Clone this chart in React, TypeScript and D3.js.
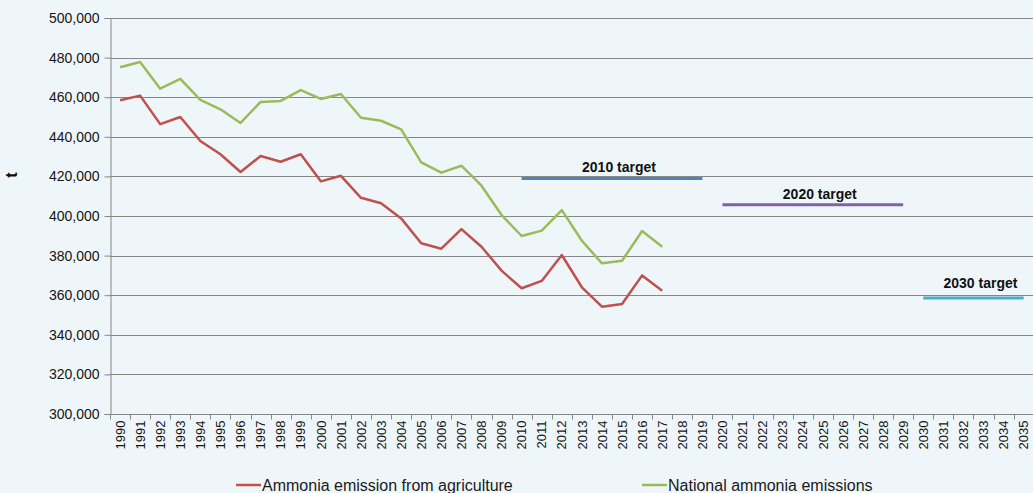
import { useEffect, useRef } from "react";
import * as d3 from "d3";

const years = d3.range(1990, 2036).map(String);

const agricultureYears = d3.range(1990, 2018).map(String);
const agriculture = [
  458500, 460800, 446400, 450000, 437900, 431200, 422200, 430300, 427400, 431200,
  417500, 420300, 409200, 406400, 398800, 386200, 383500, 393400, 384500, 372400,
  363500, 367200, 380300, 364000, 354200, 355600, 370000, 362300,
];
const national = [
  475100, 477800, 464300, 469300, 458600, 453900, 447000, 457600, 458100, 463600,
  459100, 461600, 449600, 448100, 443800, 427100, 421900, 425400, 415300, 400500,
  389900, 392600, 403000, 387500, 376100, 377400, 392400, 384500,
];

const targetLabels = ["2010 target", "2020 target", "2030 target"];
const targetValues = [419000, 405700, 358600];
const targetStart = ["2010", "2020", "2030"];
const targetEnd = ["2019", "2029", "2035"];
const targetColors = ["#4F81BD", "#8064A2", "#4BACC6"];

const yTicks = d3.range(300000, 500001, 20000);

const App = () => {
  const svgRef = useRef<SVGSVGElement>(null);

  useEffect(() => {
    const width = 1033;
    const height = 493;
    const margin = { top: 18, left: 110, bottom: 79 };
    const band = 20.08;

    const svg = d3.select(svgRef.current);
    svg.selectAll("*").remove();
    svg.attr("width", width).attr("height", height)
      .style("font-family", "'Liberation Sans', Arial, sans-serif");

    svg.append("rect").attr("width", width).attr("height", height).attr("fill", "#EFF6FA");

    const x = d3.scaleBand()
      .domain(years)
      .range([margin.left, margin.left + band * years.length]);
    const cx = (d: string) => x(d)! + x.bandwidth() / 2;

    const y = d3.scaleLinear()
      .domain([300000, 500000])
      .range([height - margin.bottom, margin.top]);

    // gridlines
    svg.append("g")
      .selectAll("line")
      .data(yTicks.slice(1))
      .join("line")
      .attr("x1", margin.left)
      .attr("x2", width)
      .attr("y1", (d) => Math.round(y(d)) + 0.5)
      .attr("y2", (d) => Math.round(y(d)) + 0.5)
      .attr("stroke", "#878787")
      .attr("stroke-width", 1.2);

    // y axis
    const yAxis = svg.append("g")
      .attr("transform", `translate(${margin.left + 0.5},0)`)
      .call(d3.axisLeft(y).tickValues(yTicks).tickSize(6).tickPadding(5)
        .tickFormat((d) => d3.format(",")(d as number)));
    yAxis.select(".domain").attr("stroke", "#868686");
    yAxis.selectAll(".tick line").attr("stroke", "#868686");
    yAxis.selectAll(".tick text")
      .attr("font-size", 14)
      .attr("fill", "#151515")
      .attr("font-family", "'Liberation Sans', Arial, sans-serif");

    // x axis
    const xAxisG = svg.append("g")
      .attr("transform", `translate(0,${Math.round(y(300000)) + 0.5})`);
    xAxisG.append("line")
      .attr("x1", margin.left)
      .attr("x2", width)
      .attr("stroke", "#868686");
    xAxisG.selectAll("line.tick")
      .data(years)
      .join("line")
      .attr("class", "tick")
      .attr("x1", (d) => Math.round(x(d)!) + 0.5)
      .attr("x2", (d) => Math.round(x(d)!) + 0.5)
      .attr("y1", 0)
      .attr("y2", 5)
      .attr("stroke", "#868686");
    xAxisG.selectAll("text")
      .data(years)
      .join("text")
      .attr("transform", (d) => `translate(${cx(d)},6) rotate(-90)`)
      .attr("text-anchor", "end")
      .attr("dy", "0.36em")
      .attr("font-size", 13)
      .attr("fill", "#151515")
      .text((d) => d);

    // y axis title
    svg.append("text")
      .attr("transform", `translate(17,175) rotate(-90)`)
      .attr("text-anchor", "middle")
      .attr("font-size", 16)
      .attr("font-weight", "bold")
      .attr("fill", "#111")
      .text("t");

    const line = d3.line<number>()
      .x((_, i) => cx(agricultureYears[i]))
      .y((d) => y(d));

    svg.append("path")
      .datum(national)
      .attr("d", line)
      .attr("fill", "none")
      .attr("stroke", "#9BBB59")
      .attr("stroke-width", 2.5)
      .attr("stroke-linejoin", "round");

    svg.append("path")
      .datum(agriculture)
      .attr("d", line)
      .attr("fill", "none")
      .attr("stroke", "#C0504D")
      .attr("stroke-width", 2.5)
      .attr("stroke-linejoin", "round");

    // targets
    const tg = svg.append("g")
      .selectAll("g")
      .data(targetLabels)
      .join("g");
    tg.append("line")
      .attr("x1", (_, i) => cx(targetStart[i]))
      .attr("x2", (_, i) => cx(targetEnd[i]))
      .attr("y1", (_, i) => y(targetValues[i]))
      .attr("y2", (_, i) => y(targetValues[i]))
      .attr("stroke", (_, i) => targetColors[i])
      .attr("stroke-width", 3);
    tg.append("text")
      .attr("x", (_, i) => (cx(targetStart[i]) + cx(targetEnd[i])) / 2 + 7)
      .attr("y", (_, i) => y(targetValues[i]) - (i === 2 ? 10 : 6))
      .attr("text-anchor", "middle")
      .attr("font-size", 14)
      .attr("font-weight", "bold")
      .attr("fill", "#111")
      .text((d) => d);

    // legend
    const legend = [
      { name: "Ammonia emission from agriculture", color: "#C0504D", x: 236 },
      { name: "National ammonia emissions", color: "#9BBB59", x: 642 },
    ];
    const lg = svg.append("g").selectAll("g").data(legend).join("g")
      .attr("transform", (d) => `translate(${d.x},485)`);
    lg.append("line")
      .attr("x1", 0)
      .attr("x2", 25)
      .attr("stroke", (d) => d.color)
      .attr("stroke-width", 2.5);
    lg.append("text")
      .attr("x", 26)
      .attr("y", 6)
      .attr("font-size", 16)
      .attr("fill", "#1a1a1a")
      .text((d) => d.name);
  }, []);

  return (
    <svg
      ref={svgRef}
      style={{ position: "absolute", left: 0, top: 0, display: "block" }}
    />
  );
};

export default App;
